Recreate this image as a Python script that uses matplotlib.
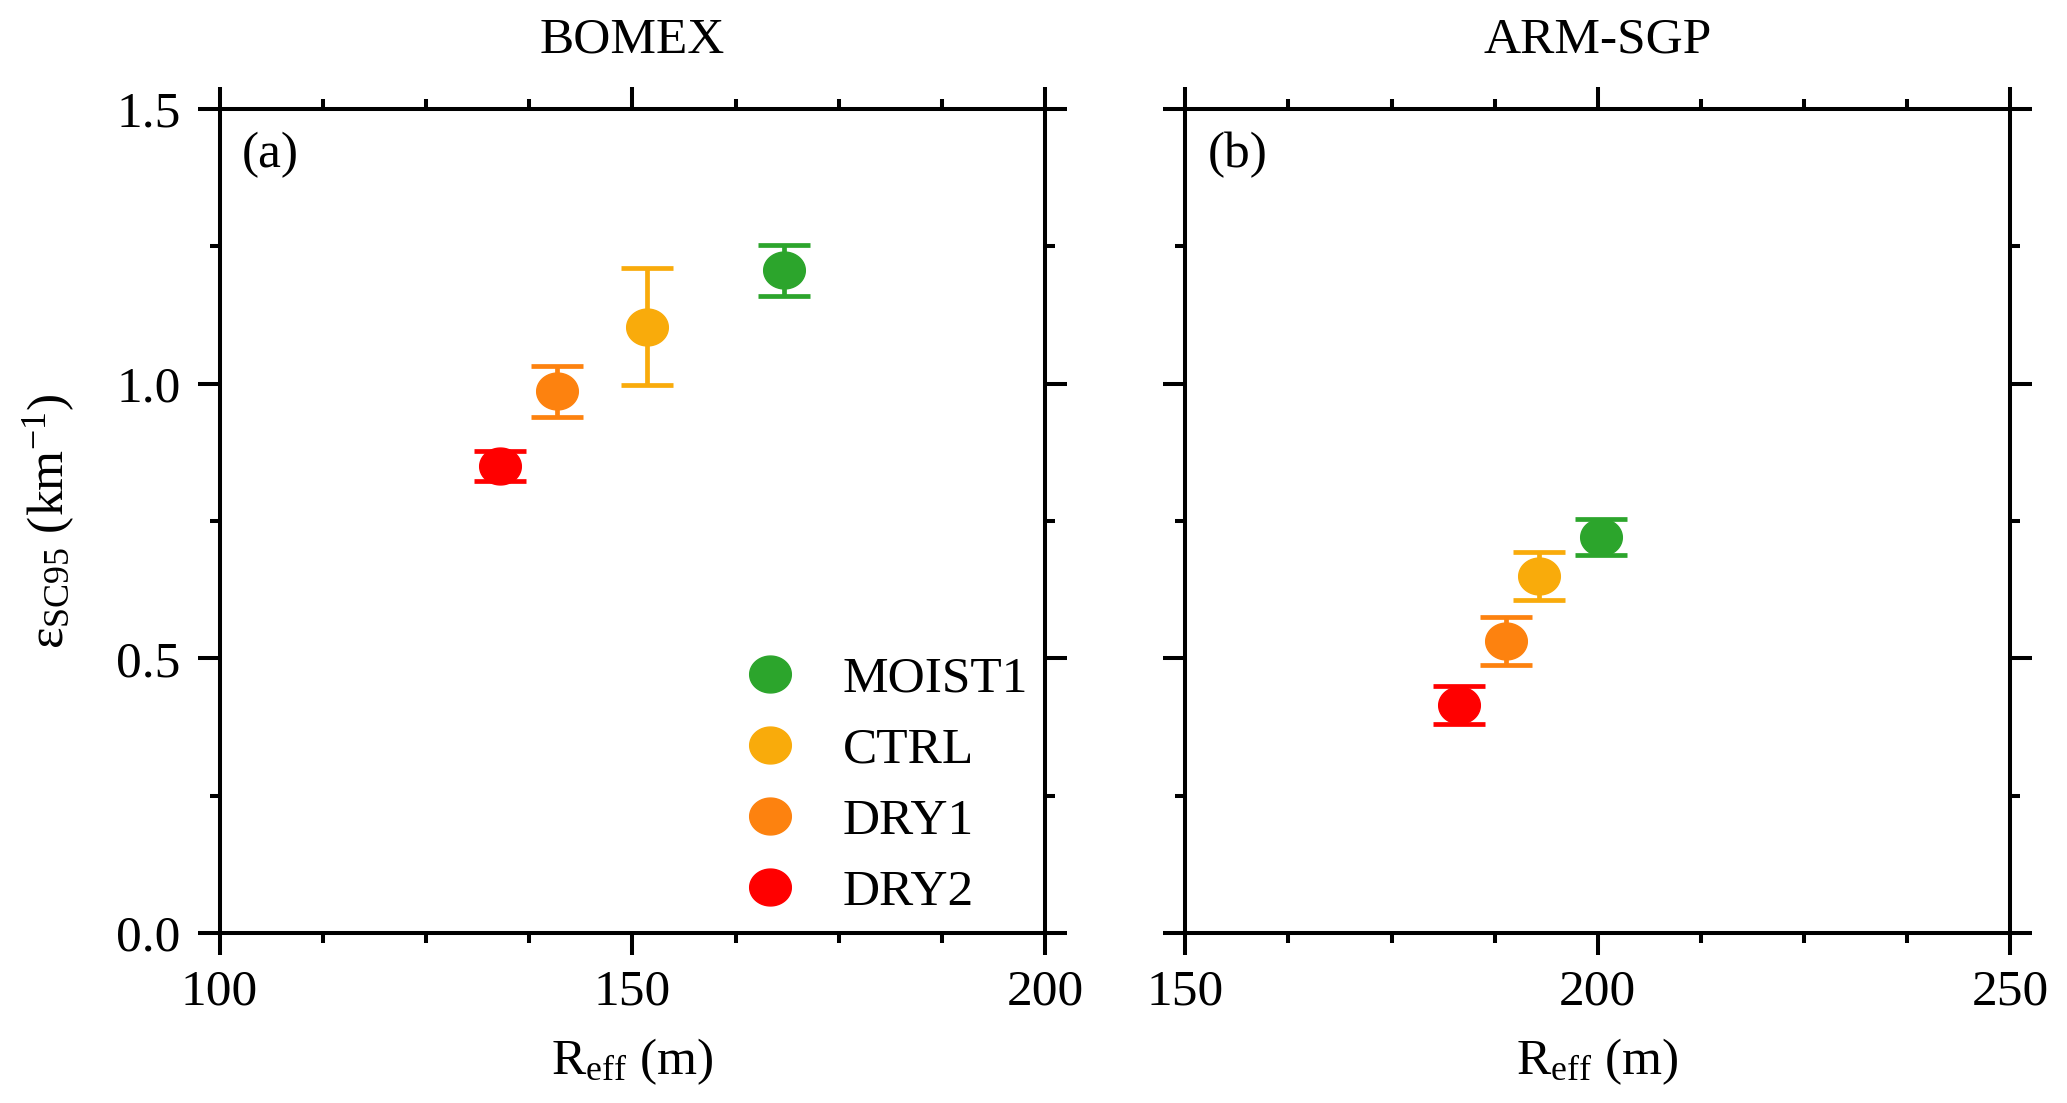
import numpy as np
import matplotlib
matplotlib.use("Agg")
import matplotlib.pyplot as plt
from matplotlib.path import Path
from matplotlib.ticker import MultipleLocator, FormatStrFormatter

plt.rcParams['font.family'] = ['Liberation Serif', 'DejaVu Serif']
plt.rcParams['mathtext.fontset'] = 'custom'
plt.rcParams['mathtext.rm'] = 'Liberation Serif'
plt.rcParams['mathtext.it'] = 'Liberation Serif:italic'

# ---------------- data ----------------
cases = ['MOIST1', 'CTRL', 'DRY1', 'DRY2']
colors = ['#2ca52c', '#f9ab0b', '#fd820f', '#ff0000']

bomex_reff = [168.4, 151.8, 140.9, 134.0]
bomex_eps = [1.206, 1.104, 0.986, 0.850]
bomex_err = [0.046, 0.106, 0.047, 0.028]

arm_reff = [200.4, 192.9, 188.9, 183.2]
arm_eps = [0.721, 0.650, 0.532, 0.415]
arm_err = [0.033, 0.044, 0.044, 0.034]

panel_titles = ['BOMEX', 'ARM-SGP']
panel_tags = ['(a)', '(b)']
xlims = [(100, 200), (150, 250)]
ylim = (0.0, 1.5)

# ---------------- styling ----------------
FS = 37
LW = 2.9
t = np.linspace(0, 2 * np.pi, 100)
ellipse = Path(np.column_stack([1.13 * np.cos(t), np.sin(t)]))

fig = plt.figure(figsize=(20.67, 11.03), dpi=100)
axes = [fig.add_axes([0.1062, 0.1541, 0.3995, 0.7471]),
        fig.add_axes([0.5735, 0.1541, 0.3989, 0.7471])]

datasets = [(bomex_reff, bomex_eps, bomex_err), (arm_reff, arm_eps, arm_err)]

for i, ax in enumerate(axes):
    xs, ys, es = datasets[i]
    for c, x, y, e, col in zip(cases, xs, ys, es, colors):
        eb = ax.errorbar([x], [y], yerr=[e], fmt='none', ecolor=col,
                         elinewidth=3.4, capsize=19, capthick=3.4, zorder=2)
        for cl in eb[1]:
            cl.set_solid_capstyle('round')
        ax.plot([x], [y], linestyle='none', marker=ellipse, ms=30,
                color=col, mec=col, label=c, zorder=3)
    ax.set_xlim(*xlims[i])
    ax.set_ylim(*ylim)
    ax.xaxis.set_major_locator(MultipleLocator(50))
    ax.xaxis.set_minor_locator(MultipleLocator(12.5))
    ax.yaxis.set_major_locator(MultipleLocator(0.5))
    ax.yaxis.set_minor_locator(MultipleLocator(0.25))
    ax.tick_params(which='both', direction='out', top=True, right=True,
                   width=LW, labelsize=FS)
    ax.tick_params(which='major', length=16)
    ax.tick_params(which='minor', length=7.5)
    ax.tick_params(axis='x', pad=10)
    ax.tick_params(axis='y', pad=12)
    ax.yaxis.set_major_formatter(FormatStrFormatter('%.1f'))
    for sp in ax.spines.values():
        sp.set_linewidth(LW)
    ax.text(0.5, 1.068, panel_titles[i], transform=ax.transAxes,
            ha='center', va='baseline', fontsize=FS)
    ax.text(0.027, 0.930, panel_tags[i], transform=ax.transAxes,
            ha='left', va='baseline', fontsize=FS)
    ax.set_xlabel(r'R$_{\mathrm{eff}}$ (m)', fontsize=FS)
    ax.xaxis.set_label_coords(0.5, -0.125)
    if i == 1:
        ax.tick_params(axis='y', labelleft=False)

axes[0].set_ylabel('ε$_{\\mathrm{SC95}}$ (km$^{-1}$)', fontsize=FS)
axes[0].yaxis.set_label_coords(-0.172, 0.5)

axes[0].legend(loc='lower right', frameon=False, fontsize=FS,
               handlelength=1.0, handletextpad=0.92, labelspacing=0.47,
               borderpad=0.0, borderaxespad=0.33, markerscale=1.0)

fig.savefig('out.png', dpi=100)
